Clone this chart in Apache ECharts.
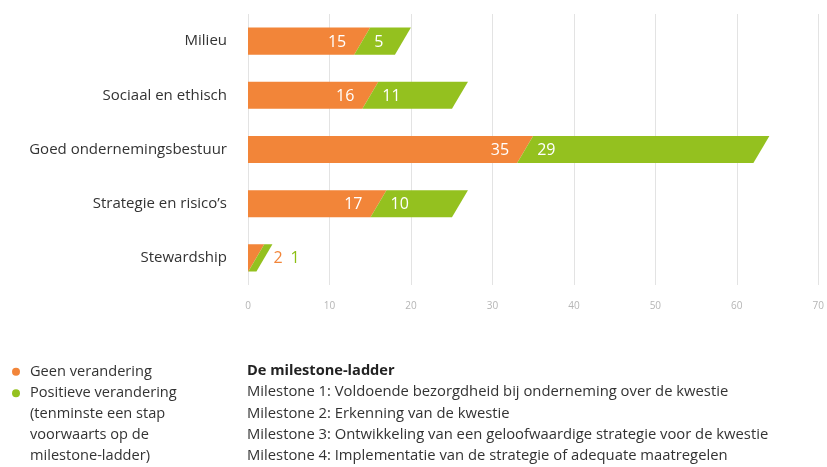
<!DOCTYPE html>
<html>
<head>
<meta charset="utf-8" />
<title>Milestone-ladder</title>
<script src="https://cdn.jsdelivr.net/npm/echarts@6/dist/echarts.min.js"></script>
<style>
  html, body { margin: 0; padding: 0; background: #fff; }
  #main { width: 827px; height: 467px; }
</style>
</head>
<body>
<div id="main"></div>
<script>
var categories = ['Milieu', 'Sociaal en ethisch', 'Goed ondernemingsbestuur', 'Strategie en risico\u2019s', 'Stewardship'];
var geen = [15, 16, 35, 17, 2];
var positief = [5, 11, 29, 10, 1];
var xTicks = [0, 70, 10];

var ORANGE = '#F28539';
var GREEN = '#94C11F';
var FONT = 'Open Sans';
var SLANT = 16;

var myChart = echarts.init(document.getElementById('main'));

// rows: [start, end, categoryIndex, value]
function rows(first) {
  return categories.map(function (c, i) {
    return first ? [0, geen[i], i, geen[i]] : [geen[i], geen[i] + positief[i], i, positief[i]];
  });
}

function makeRender(first) {
  return function (params, api) {
    var i = api.value(2);
    var p0 = api.coord([api.value(0), i]);
    var p1 = api.coord([api.value(1), i]);
    var zero = api.coord([0, i])[0];
    var h = api.size([0, 1])[1] * 0.5;
    var top = p0[1] - h / 2, bot = p0[1] + h / 2;
    var x0t = p0[0], x0b = first ? p0[0] : Math.max(zero, p0[0] - SLANT);
    var x1t = p1[0], x1b = Math.max(zero, p1[0] - SLANT);
    var children = [{
      type: 'polygon',
      shape: { points: [[x0t, top], [x1t, top], [x1b, bot], [x0b, bot]] },
      style: { fill: first ? ORANGE : GREEN }
    }];
    // too narrow: labels go after the bar, in the bar colours
    var small = geen[i] < 5;
    var tx, align, fill;
    if (small) {
      var end = api.coord([geen[i] + positief[i], i])[0];
      tx = first ? end + 1 : end + 18;
      align = 'left';
      fill = first ? ORANGE : '#8CBF14';
    } else if (first) {
      tx = p1[0] - SLANT / 2 - 16;
      align = 'right';
      fill = '#fff';
    } else {
      tx = p0[0] - SLANT / 2 + 12;
      align = 'left';
      fill = '#fff';
    }
    children.push({
      type: 'text',
      style: {
        text: String(api.value(3)), x: tx, y: p0[1] + 1, align: align, verticalAlign: 'middle',
        fill: fill, fontSize: 16, fontFamily: FONT
      }
    });
    return { type: 'group', children: children };
  };
}

var extraLines = ['(tenminste een stap', 'voorwaarts op de', 'milestone-ladder)'];
var ladder = [
  'Milestone 1: Voldoende bezorgdheid bij onderneming over de kwestie',
  'Milestone 2: Erkenning van de kwestie',
  'Milestone 3: Ontwikkeling van een geloofwaardige strategie voor de kwestie',
  'Milestone 4: Implementatie van de strategie of adequate maatregelen'
];

var option = {
  animation: false,
  textStyle: { fontFamily: FONT },
  grid: { left: 248, right: 7, top: 14, height: 271 },
  legend: {
    orient: 'vertical', left: 7, top: 356,
    icon: 'circle', itemWidth: 8, itemHeight: 8, itemGap: 0,
    textStyle: { color: '#333', fontSize: 14.6, lineHeight: 21.5, fontFamily: FONT, padding: [0, 0, 0, 5] },
    data: ['Geen verandering', 'Positieve verandering']
  },
  xAxis: {
    type: 'value', min: xTicks[0], max: xTicks[1], interval: xTicks[2],
    axisLine: { show: false }, axisTick: { show: false },
    splitLine: { lineStyle: { color: '#e3e3e3' } },
    axisLabel: { color: '#b5b5b5', fontSize: 10, margin: 16 }
  },
  yAxis: {
    type: 'category', inverse: true, data: categories,
    axisLine: { show: false }, axisTick: { show: false },
    axisLabel: { color: '#333', fontSize: 15, margin: 21, fontFamily: FONT }
  },
  graphic: [
    { type: 'text', left: 30, top: 403.5,
      style: { text: extraLines.join('\n'), fill: '#333', fontSize: 14.6, lineHeight: 21, fontFamily: FONT } },
    { type: 'text', left: 247, top: 360,
      style: { text: 'De milestone-ladder', fill: '#222', fontSize: 14.6, lineHeight: 21, fontWeight: 'bold', fontFamily: FONT } },
    { type: 'text', left: 247, top: 381.5,
      style: { text: ladder.join('\n'), fill: '#333', fontSize: 14.8, lineHeight: 21.2, fontFamily: FONT } }
  ],
  series: [
    {
      name: 'Geen verandering', type: 'custom', renderItem: makeRender(true),
      itemStyle: { color: ORANGE }, encode: { x: [0, 1], y: 2 }, data: rows(true)
    },
    {
      name: 'Positieve verandering', type: 'custom', renderItem: makeRender(false),
      itemStyle: { color: GREEN }, encode: { x: [0, 1], y: 2 }, data: rows(false)
    }
  ]
};

myChart.setOption(option);
</script>
</body>
</html>
